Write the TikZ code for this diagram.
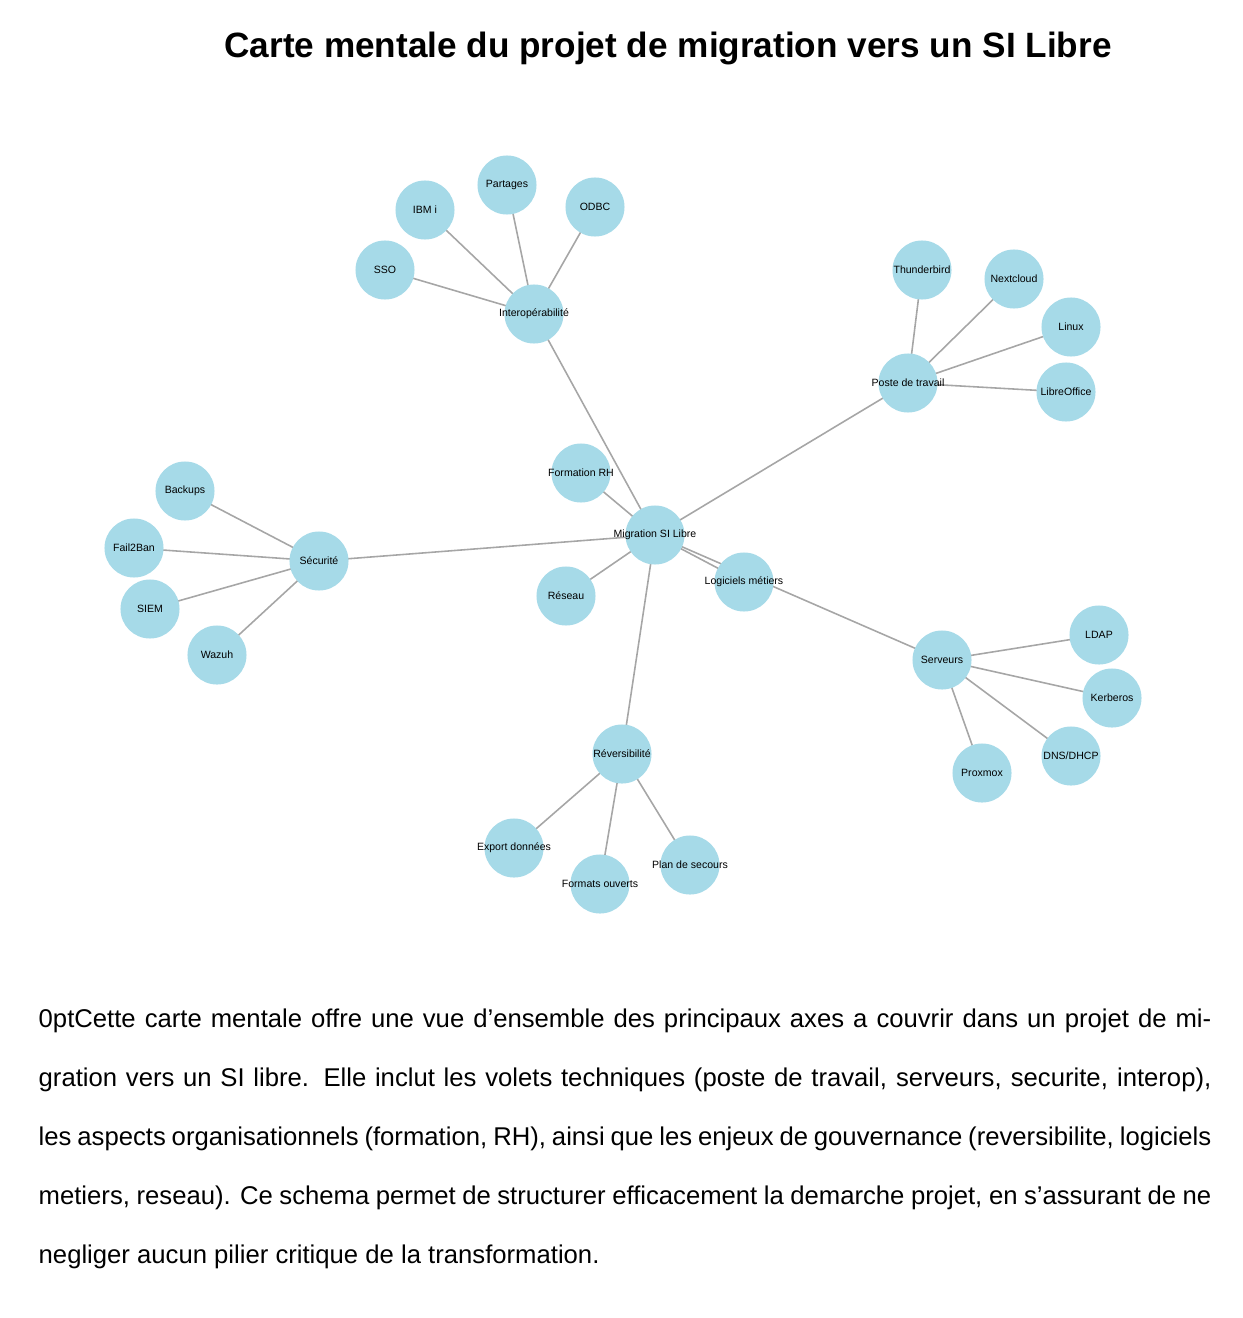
\documentclass[tikz,border=0pt]{standalone}
\usepackage{fontspec}
\setmainfont{Liberation Sans}
\usetikzlibrary{positioning,backgrounds}
\definecolor{nodeblue}{HTML}{A6DAE8}
\definecolor{edgegray}{HTML}{A6A6A6}
\newcommand{\apos}{\symbol{"27}}

\begin{document}
\begin{tikzpicture}[x=0.01cm, y=-0.01cm,
    topic/.style={circle, fill=nodeblue, minimum size=0.59cm, inner sep=0pt,
        label={[font=\fontsize{3}{4}\selectfont, inner sep=0pt]center:#1}},
    link/.style={edgegray, line width=0.45pt}
]
    \useasboundingbox (0,0) rectangle (1242,1318);

    % Title
    \node[font=\bfseries\fontsize{10}{12}\selectfont] (title) at (668,48) {Carte mentale du projet de migration vers un SI Libre};

    % Centre and direct branches
    \node[topic=Migration SI Libre] (mig) at (655,535) {};
    \node[topic=Formation RH] (form) at (581,473) {};
    \node[topic=Réseau] (res) at (566,596) {};
    \node[topic=Interopérabilité] (inter) at (534,314) {};
    \node[topic=Poste de travail] (poste) at (908,383) {};
    \node[topic=Sécurité] (secu) at (319,561) {};
    \node[topic=Serveurs] (serv) at (942,660) {};
    \node[topic=Réversibilité] (rev) at (622,754) {};
    \node[topic=Logiciels métiers] (logi) at (744,582) {};

    % Interoperabilite leaves
    \node[topic=SSO] (sso) at (385,270) {};
    \node[topic=IBM i] (ibm) at (425,210) {};
    \node[topic=Partages] (part) at (507,185) {};
    \node[topic=ODBC] (odbc) at (595,207) {};

    % Poste de travail leaves
    \node[topic=Thunderbird] (thund) at (922,270) {};
    \node[topic=Nextcloud] (nextc) at (1014,279) {};
    \node[topic=Linux] (linux) at (1071,327) {};
    \node[topic=LibreOffice] (lo) at (1066,392) {};

    % Securite leaves
    \node[topic=Backups] (back) at (185,491) {};
    \node[topic=Fail2Ban] (f2b) at (134,548) {};
    \node[topic=SIEM] (siem) at (150,609) {};
    \node[topic=Wazuh] (wazuh) at (217,655) {};

    % Serveurs leaves
    \node[topic=LDAP] (ldap) at (1099,635) {};
    \node[topic=Kerberos] (kerb) at (1112,698) {};
    \node[topic=DNS/DHCP] (dns) at (1071,756) {};
    \node[topic=Proxmox] (prox) at (982,773) {};

    % Reversibilite leaves
    \node[topic=Export données] (exp) at (514,848) {};
    \node[topic=Formats ouverts] (fmt) at (600,884) {};
    \node[topic=Plan de secours] (plan) at (690,865) {};

    % Edges (behind nodes)
    \begin{scope}[on background layer]
        \foreach \a/\b in {mig/form, mig/res, mig/logi, mig/inter, mig/poste, mig/secu, mig/serv, mig/rev,
                           inter/sso, inter/ibm, inter/part, inter/odbc,
                           poste/thund, poste/nextc, poste/linux, poste/lo,
                           secu/back, secu/f2b, secu/siem, secu/wazuh,
                           serv/ldap, serv/kerb, serv/dns, serv/prox,
                           rev/exp, rev/fmt, rev/plan}
            \draw[link] (\a.center) -- (\b.center);
    \end{scope}

    % Description
    \node[text width=11.72cm, align=justify, inner sep=0pt, anchor=north west,
          font=\fontsize{7.3}{16.8}\selectfont\hyphenpenalty=10000\exhyphenpenalty=10000] (desc) at (38,1008)
    {Cette carte mentale offre une vue d\apos ensemble des principaux axes a couvrir dans un projet de migration vers un SI libre. Elle inclut les volets techniques (poste de travail, serveurs, securite, interop), les aspects organisationnels (formation, RH), ainsi que les enjeux de gouvernance (reversibilite, logiciels metiers, reseau). Ce schema permet de structurer efficacement la demarche projet, en s\apos assurant de ne negliger aucun pilier critique de la transformation.};
\end{tikzpicture}
\end{document}
